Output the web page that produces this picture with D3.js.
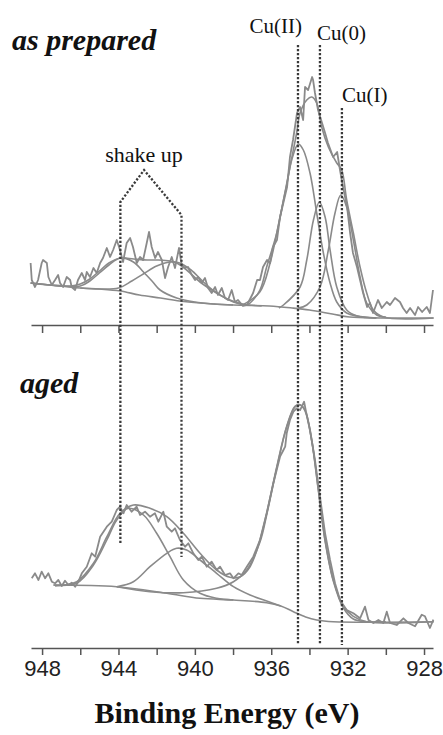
<!DOCTYPE html>
<html>
<head>
<meta charset="utf-8">
<script src="https://cdn.jsdelivr.net/npm/d3@7.9.0/dist/d3.min.js"></script>
<style>
  html, body { margin: 0; padding: 0; background: #fff; }
</style>
</head>
<body>
<div id="chart"></div>
<script>
// Cu 2p3/2 spectra, [binding energy (eV), intensity (a.u.)]

// ---- as prepared ----
const rawTop = [[948.6,62],[948.54,45],[948.37,38],[948.21,45],[948.02,62],[947.95,65],[947.75,62],[947.67,48],[947.49,40],[947.32,45],[947.16,50],[947.06,42],[946.90,38],[946.71,48],[946.53,45],[946.45,38],[946.27,35],[946.12,45],[945.92,52],[945.75,45],[945.66,53],[945.49,48],[945.31,57],[945.14,52],[944.96,62],[944.81,67],[944.61,77],[944.44,68],[944.28,75],[944.09,85],[943.92,75],[943.76,63],[943.57,82],[943.39,87],[943.24,78],[943.04,62],[942.87,68],[942.71,65],[942.52,82],[942.40,93],[942.26,78],[942.08,67],[941.93,73],[941.73,65],[941.56,47],[941.40,58],[941.21,68],[941.04,57],[940.83,77],[940.69,60],[940.50,57],[940.36,58],[940.16,50],[939.99,45],[939.83,48],[939.64,42],[939.47,47],[939.31,37],[939.12,32],[938.94,38],[938.79,30],[938.59,37],[938.42,27],[938.26,25],[938.07,35],[937.90,23],[937.74,25],[937.48,19],[937.27,20],[936.95,32],[936.74,45],[936.59,45],[936.43,58],[936.22,65],[936.06,62],[935.91,78],[935.70,85],[935.54,108],[935.17,138],[935.02,168],[934.86,185],[934.65,212],[934.49,218],[934.33,205],[934.23,238],[934.07,235],[933.86,248],[933.81,245],[933.71,232],[933.55,215],[933.34,202],[933.18,192],[933.03,182],[932.76,168],[932.55,173],[932.40,155],[932.24,138],[932.03,118],[931.87,92],[931.72,72],[931.51,58],[931.35,45],[931.19,32],[930.98,18],[930.83,22],[930.67,12],[930.41,25],[930.21,17],[929.95,23],[929.78,20],[929.52,27],[929.26,23],[929.10,17],[928.91,12],[928.73,17],[928.47,10],[928.31,18],[928.10,13],[927.86,18],[927.69,12],[927.53,35]];
const envTop = [[948.6,42],[947.5,40],[946.5,39],[946.0,41],[945.5,46],[945.0,54],[944.5,62],[943.9,67],[943.2,66],[942.5,65],[941.9,65],[941.3,64],[940.95,62],[940.43,55],[939.73,43],[938.86,32],[937.98,23],[937.28,20],[937.11,22],[936.59,35],[936.24,58],[935.71,92],[935.36,125],[935.02,158],[934.67,192],[934.49,212],[934.14,225],[933.88,228],[933.62,222],[933.36,198],[933.01,178],[932.57,162],[932.31,155],[932.05,125],[931.70,92],[931.35,58],[931.00,32],[930.65,15],[930.13,8],[927.5,7]];
const bgTop = [[948.6,42],[947.6,40],[946.0,37],[945.0,36],[943.9,34],[942.9,30],[941.8,27],[940.8,24],[939.7,22],[938.0,20],[936.1,19],[934.9,17],[934.0,15],[932.8,11],[931.9,8],[930.3,7],[927.5,7]];
const shake1Top = [[948.6,42],[947.0,39],[946.0,39],[945.5,44],[945.0,52],[944.5,60],[943.9,67],[943.22,63],[942.69,53],[942.2,43],[941.82,35],[940.95,27],[940.0,23],[939.0,21],[938.0,20]];
const shake2Top = [[946.0,37],[945.0,36],[944.0,37],[943.3,44],[942.7,51],[942.0,59],[941.3,63],[940.8,62],[940.2,55],[939.6,44],[939.0,34],[938.3,26],[937.5,21],[936.5,19]];
const cu2Top = [[937.5,20],[936.6,33],[936.06,62],[935.54,108],[935.19,140],[934.93,165],[934.58,181],[934.32,175],[933.97,152],[933.62,112],[933.27,72],[932.92,42],[932.57,23],[932.05,12],[931.5,9],[930.5,7]];
const cu0Top = [[935.6,17],[935.36,20],[934.49,38],[934.14,65],[933.79,105],[933.48,123],[933.18,108],[932.92,75],[932.57,38],[932.05,15],[931.5,9],[930.5,7]];
const cu1Top = [[934.6,17],[934.14,20],[933.45,38],[933.01,75],[932.66,112],[932.36,130],[932.05,118],[931.70,85],[931.35,48],[931.00,22],[930.48,10],[930.0,8]];

// ---- aged ----
const rawBot = [[948.54,69.7],[948.37,74.7],[948.19,68],[948.02,76.3],[947.84,69.7],[947.67,74.7],[947.49,66.3],[947.32,64.7],[947.15,68],[946.97,62],[946.80,67.3],[946.62,63],[946.45,65.3],[946.27,61.3],[946.10,66.3],[945.92,74.7],[945.66,81.3],[945.40,94.7],[945.22,91.3],[944.96,111.3],[944.61,121.3],[944.35,126.3],[944.09,138],[943.92,141.3],[943.74,134.7],[943.57,143],[943.31,136.3],[943.05,141.3],[942.87,133],[942.61,136.3],[942.35,131.3],[942.09,134.7],[941.91,126.3],[941.65,136.3],[941.47,121.3],[941.21,116.3],[941.04,119.7],[940.78,108],[940.51,101.3],[940.34,104.7],[940.08,94.7],[939.82,88],[939.64,91.3],[939.38,81.3],[939.12,86.3],[938.86,78],[938.68,81.3],[938.42,73],[938.16,74.7],[937.98,69.7],[937.72,74.7],[937.55,73],[937.28,81.3],[936.94,91.3],[936.59,108],[936.24,134.7],[935.89,164.7],[935.54,191.3],[935.36,198],[935.27,201.3],[935.19,214.7],[935.02,228],[934.84,236.3],[934.67,239.7],[934.49,238],[934.40,241.3],[934.28,246.3],[934.18,236.3],[933.97,218],[933.71,188],[933.45,151.3],[933.18,114.7],[932.92,88],[932.66,64.7],[932.40,48],[932.05,38],[931.70,34.7],[931.35,29.7],[931.09,41.3],[930.91,28],[930.65,25],[930.39,28],[930.13,25],[929.95,36.3],[929.78,25],[929.43,23],[929.08,29.7],[928.82,25],[928.47,21.7],[928.12,33.3],[927.95,31.7],[927.69,20],[927.51,28.3]];
const envBot = [[947.32,62],[946.8,63],[946.18,66.3],[945.31,84.7],[944.61,111],[943.92,134.7],[943.22,143],[942.35,139.7],[941.47,131.3],[940.60,114.7],[939.73,94.7],[938.86,78],[938.16,70.7],[937.63,71.3],[937.11,81.3],[936.59,108],[936.24,134.7],[935.71,181.3],[935.19,221.7],[934.76,241.7],[934.49,243.3],[934.23,238],[933.88,208],[933.53,158],[933.18,108],[932.75,68],[932.22,41.7],[931.70,31.7],[931.00,26.3],[927.5,26.3]];
const bgBot = [[947.4,63],[944.09,61.3],[941.47,54.7],[939.73,49.7],[937.98,48],[936.24,45.3],[935.5,42],[934.84,36.3],[934.2,31],[933.62,28],[932.75,26.3],[927.5,26.3]];
const shake1Bot = [[947.4,63],[946.18,65],[945.31,83],[944.61,108],[944.09,128],[943.48,139.7],[942.69,133],[942.0,114.7],[941.30,91.3],[940.60,68],[939.73,54.7],[938.86,49.7],[937.98,48]];
const shake2Bot = [[944.09,61.3],[943.22,66.3],[942.35,81.3],[941.47,94.7],[940.95,99.7],[940.43,98],[939.73,88],[938.86,74.7],[937.98,61.3],[937.11,53],[936.24,47],[935.5,42]];
const cu2Bot = [[944.09,61.3],[942.35,56.3],[940.60,55.3],[938.86,59.7],[937.98,66.3],[937.28,78],[936.59,106],[936.24,133],[935.71,180],[935.19,221],[934.76,241],[934.49,243],[934.23,237],[933.88,207],[933.53,157],[933.18,107],[932.75,67],[932.22,40],[931.70,29],[931.0,26.3],[930.0,26.3]];

// reference lines (binding energies)
const cuLabels = ["Cu(II)", "Cu(0)", "Cu(I)"];
const cuEnergies = [934.6, 933.45, 932.3];
const cuTopLevels = [280, 280, 217];     // top-panel units
const shakeEnergies = [943.9, 940.7];
const shakeApex = [942.66, 155];
const shakeTopLevels = [123, 110];
const shakeBotLevels = [105, 91];          // bottom-panel units
const cuBotLevel = 3;

const tickValues = d3.range(928, 949, 2);

const width = 443, height = 735;
const grey = "#8a8a8a";

const svg = d3.select("#chart").append("svg")
    .attr("width", width)
    .attr("height", height);

svg.append("rect").attr("width", width).attr("height", height).attr("fill", "#fff");

const x = d3.scaleLinear().domain([948.58, 927.53]).range([31, 433]);
const yTop = d3.scaleLinear().domain([0, 300]).range([325, 25]);
const yBot = d3.scaleLinear().domain([0, 300]).range([648, 348]);

function drawCurve(data, y, smooth, w) {
    const line = d3.line()
        .x(d => x(d[0]))
        .y(d => y(d[1]))
        .curve(smooth ? d3.curveCatmullRom.alpha(0.5) : d3.curveLinear);
    svg.append("path")
        .datum(data)
        .attr("fill", "none")
        .attr("stroke", grey)
        .attr("stroke-width", w)
        .attr("stroke-linejoin", "round")
        .attr("d", line);
}

// fits first, raw data on top
[bgTop, shake1Top, shake2Top, cu2Top, cu0Top, cu1Top, envTop].forEach(d => drawCurve(d, yTop, true, 1.6));
drawCurve(rawTop, yTop, false, 1.8);
[bgBot, shake1Bot, shake2Bot, cu2Bot, envBot].forEach(d => drawCurve(d, yBot, true, 1.6));
drawCurve(rawBot, yBot, false, 1.8);

function drawAxis(y0, size, withLabels) {
    const axis = d3.axisBottom(x)
        .tickValues(tickValues)
        .tickSize(size)
        .tickSizeOuter(0)
        .tickPadding(5)
        .tickFormat(d => withLabels && d % 4 === 0 ? d : "");
    const g = svg.append("g")
        .attr("transform", `translate(0,${y0})`)
        .call(axis);
    g.select(".domain").attr("stroke", "#555").attr("stroke-width", 1.5);
    g.selectAll(".tick line").attr("stroke", "#555").attr("stroke-width", 1.5);
    g.selectAll(".tick text")
        .attr("font-family", "'Liberation Sans', Arial, sans-serif")
        .attr("font-size", 22)
        .attr("fill", "#222");
}
drawAxis(325, 8, false);
drawAxis(648, 7, true);

// dotted markers
const dots = svg.append("g")
    .attr("stroke", "#3a3a3a")
    .attr("stroke-width", 2.3)
    .attr("stroke-dasharray", "2.2,1.8")
    .attr("fill", "none");

cuEnergies.forEach((e, i) => {
    dots.append("line")
        .attr("x1", x(e)).attr("x2", x(e))
        .attr("y1", yTop(cuTopLevels[i]))
        .attr("y2", yBot(cuBotLevel));
});

dots.append("path")
    .attr("d", d3.line()([
        [x(shakeEnergies[0]), yBot(shakeBotLevels[0])],
        [x(shakeEnergies[0]), yTop(shakeTopLevels[0])],
        [x(shakeApex[0]), yTop(shakeApex[1])],
        [x(shakeEnergies[1]), yTop(shakeTopLevels[1])],
        [x(shakeEnergies[1]), yBot(shakeBotLevels[1])]
    ]));

// labels
const serif = "'Liberation Serif', 'Times New Roman', serif";
svg.append("text")
    .attr("x", x(cuEnergies[0]) + 4).attr("y", 33)
    .attr("text-anchor", "end")
    .attr("font-family", serif).attr("font-size", 21).attr("fill", "#111")
    .text(cuLabels[0]);
svg.append("text")
    .attr("x", x(cuEnergies[1]) - 3).attr("y", 40)
    .attr("font-family", serif).attr("font-size", 21).attr("fill", "#111")
    .text(cuLabels[1]);
svg.append("text")
    .attr("x", x(cuEnergies[2])).attr("y", 102)
    .attr("font-family", serif).attr("font-size", 21).attr("fill", "#111")
    .text(cuLabels[2]);
svg.append("text")
    .attr("x", x(shakeApex[0])).attr("y", 162)
    .attr("text-anchor", "middle")
    .attr("font-family", serif).attr("font-size", 22).attr("fill", "#111")
    .text("shake up");

svg.append("text")
    .attr("x", 12).attr("y", 50)
    .attr("font-family", serif).attr("font-size", 30)
    .attr("font-weight", "bold").attr("font-style", "italic").attr("fill", "#111")
    .text("as prepared");
svg.append("text")
    .attr("x", 20).attr("y", 393)
    .attr("font-family", serif).attr("font-size", 30)
    .attr("font-weight", "bold").attr("font-style", "italic").attr("fill", "#111")
    .text("aged");

svg.append("text")
    .attr("x", 227).attr("y", 723)
    .attr("text-anchor", "middle")
    .attr("font-family", serif).attr("font-size", 30)
    .attr("font-weight", "bold").attr("fill", "#111")
    .text("Binding Energy (eV)");
</script>
</body>
</html>
